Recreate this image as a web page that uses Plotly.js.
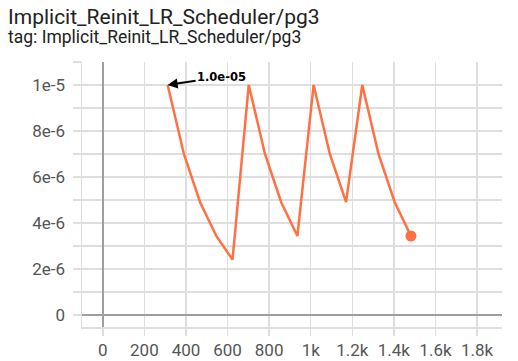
<!DOCTYPE html>
<html>
<head>
<meta charset="utf-8">
<script src="https://cdn.plot.ly/plotly-3.0.1.min.js"></script>
<style>
  html, body { margin: 0; padding: 0; background: #fff; }
  #chart { width: 518px; height: 361px; }
</style>
</head>
<body>
<div id="chart"></div>
<script>
// Data
const steps = [312, 390, 468, 546, 624, 702, 780, 858, 936, 1014, 1092, 1170, 1248, 1326, 1404, 1482];
const lrValues = [1e-5, 7e-6, 4.9e-6, 3.43e-6, 2.4e-6, 1e-5, 7e-6, 4.9e-6, 3.43e-6, 1e-5, 7e-6, 4.9e-6, 1e-5, 7e-6, 4.9e-6, 3.43e-6];
const xTickVals = [0, 200, 400, 600, 800, 1000, 1200, 1400, 1600, 1800];
const xTickText = ['0', '200', '400', '600', '800', '1k', '1.2k', '1.4k', '1.6k', '1.8k'];
const yTickVals = [0, 2e-6, 4e-6, 6e-6, 8e-6, 1e-5];
const yTickText = ['0', '2e-6', '4e-6', '6e-6', '8e-6', '1e-5'];
const titleText = 'Implicit_Reinit_LR_Scheduler/pg3';
const subtitleText = 'tag: Implicit_Reinit_LR_Scheduler/pg3';
const annotText = '1.0e-05';

const lineColor = '#ff7043';
const gridColor = '#dedede';
const zeroColor = '#9e9e9e';
const tickFont = { family: 'Roboto, sans-serif', size: 17, color: '#555555' };

const traces = [
  {
    x: steps,
    y: lrValues,
    type: 'scatter',
    mode: 'lines',
    line: { color: lineColor, width: 2.5 },
    hoverinfo: 'skip',
    showlegend: false
  },
  {
    x: [steps[steps.length - 1]],
    y: [lrValues[lrValues.length - 1]],
    type: 'scatter',
    mode: 'markers',
    marker: { color: lineColor, size: 11 },
    hoverinfo: 'skip',
    showlegend: false
  }
];

const layout = {
  width: 518,
  height: 361,
  margin: { l: 82, r: 16, t: 62, b: 34, pad: 0 },
  paper_bgcolor: '#ffffff',
  plot_bgcolor: '#ffffff',
  showlegend: false,
  xaxis: {
    range: [-100, 1920],
    tickmode: 'array',
    tickvals: xTickVals,
    ticktext: xTickText,
    tickfont: tickFont,
    ticks: 'outside',
    ticklen: 7,
    tickwidth: 1.5,
    tickcolor: gridColor,
    showgrid: true,
    gridcolor: gridColor,
    gridwidth: 1.5,
    zeroline: true,
    zerolinecolor: zeroColor,
    zerolinewidth: 2,
    showline: true,
    linecolor: gridColor,
    linewidth: 1.5,
    fixedrange: true
  },
  yaxis: {
    range: [-0.53e-6, 1.1e-5],
    tickmode: 'array',
    tickvals: yTickVals,
    ticktext: yTickText,
    tickfont: tickFont,
    ticks: 'outside',
    ticklen: 8,
    tickwidth: 1.5,
    tickcolor: gridColor,
    ticklabelstandoff: 4,
    showgrid: true,
    gridcolor: gridColor,
    gridwidth: 1.5,
    minor: {
      dtick: 1e-6,
      tick0: 0,
      showgrid: true,
      gridcolor: gridColor,
      gridwidth: 1.5,
      ticks: 'outside',
      ticklen: 8,
      tickwidth: 1.5,
      tickcolor: gridColor
    },
    zeroline: true,
    zerolinecolor: zeroColor,
    zerolinewidth: 2,
    showline: true,
    linecolor: gridColor,
    linewidth: 1.5,
    fixedrange: true
  },
  annotations: [
    {
      xref: 'paper', yref: 'paper',
      x: -76 / 420, y: 1 + (62 - 3) / 265,
      xanchor: 'left', yanchor: 'top',
      text: titleText,
      showarrow: false,
      font: { family: 'Roboto, sans-serif', size: 21, color: '#212121' }
    },
    {
      xref: 'paper', yref: 'paper',
      x: -76 / 420, y: 1 + (62 - 25) / 265,
      xanchor: 'left', yanchor: 'top',
      text: subtitleText,
      showarrow: false,
      font: { family: 'Roboto, sans-serif', size: 17.5, color: '#212121' }
    },
    {
      x: steps[0], y: lrValues[0],
      xref: 'x', yref: 'y',
      text: '<b>' + annotText + '</b>',
      showarrow: true,
      arrowhead: 2,
      arrowsize: 1,
      arrowwidth: 2,
      arrowcolor: '#000000',
      ax: 54, ay: -8,
      font: { family: 'DejaVu Sans, sans-serif', size: 11.5, color: '#000000' }
    }
  ]
};

Plotly.newPlot('chart', traces, layout, { staticPlot: true, displayModeBar: false });
</script>
</body>
</html>
